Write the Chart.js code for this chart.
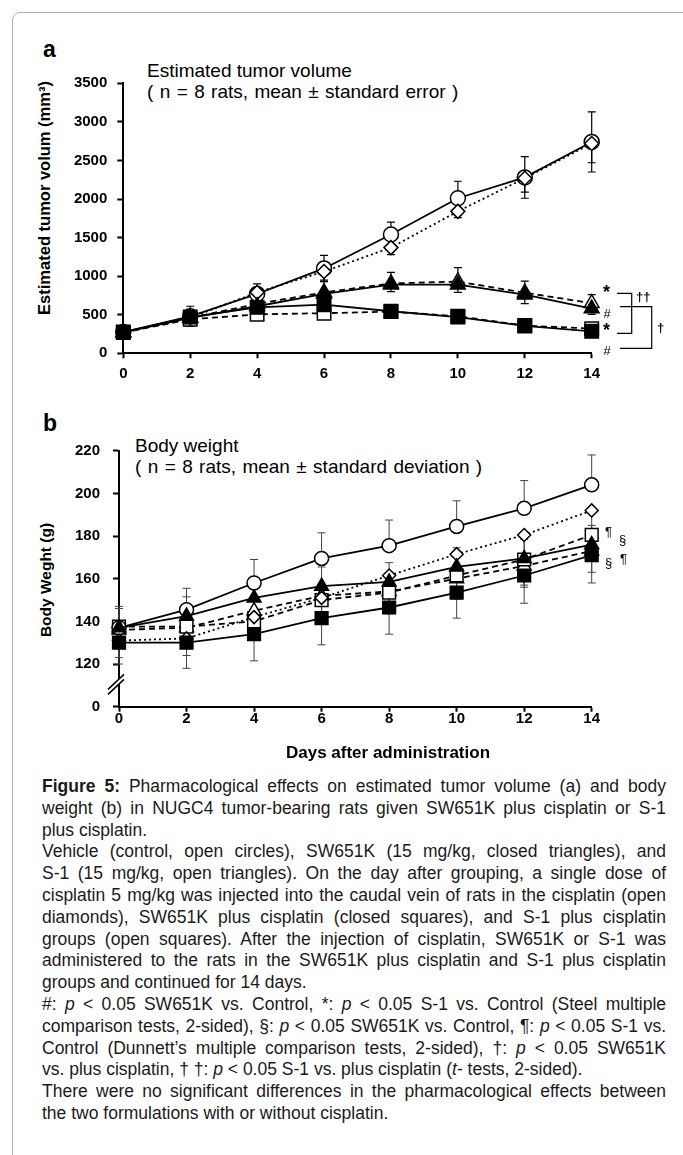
<!DOCTYPE html>
<html lang="en">
<head>
<meta charset="UTF-8">
<title>Figure 5 - tumor volume and body weight</title>
<script src="https://cdn.jsdelivr.net/npm/chart.js"></script>
<style>
  html, body { margin: 0; padding: 0; background: #fff; }
  body { width: 683px; height: 1155px; position: relative; overflow: hidden;
         font-family: 'Liberation Sans', Arial, sans-serif; color: #000; }
  .frame { position: absolute; left: 12px; top: 12px; width: 720px; height: 1180px;
           border: 1px solid #b4b4b4; border-top-left-radius: 8px; }
  canvas { position: absolute; left: 0; }
  .t { position: absolute; white-space: nowrap; }
  .panel { font-weight: bold; font-size: 23px; line-height: 23px; }
  .head { font-size: 19px; line-height: 21.3px; }
  .head .l2 { word-spacing: 1.1px; }
  .ytitle { font-weight: bold; transform: translate(-50%, -50%) rotate(-90deg); }
  .caption { position: absolute; left: 42px; top: 776px; width: 624px;
             font-size: 17.5px; line-height: 21.8px; color: #1a1a1a; }
  .caption div { white-space: nowrap; }
  .caption span { display: inline-block; }
</style>
</head>
<body>
<div class="frame"></div>

<div class="t panel" style="left:43px; top:38px;">a</div>
<div class="t head" style="left:147px; top:59.5px;">Estimated tumor volume<br><span class="l2">( n = 8 rats, mean ± standard error )</span></div>
<div class="t ytitle" style="left:44px; top:198px; font-size:16.5px;">Estimated tumor volum (mm³)</div>
<canvas id="tumorChart" width="683" height="400" style="top:0;"></canvas>

<div class="t panel" style="left:43px; top:412px;">b</div>
<div class="t head" style="left:135px; top:434.5px;">Body weight<br><span class="l2">( n = 8 rats, mean ± standard deviation )</span></div>
<div class="t ytitle" style="left:46px; top:580px; font-size:15.5px;">Body Weght (g)</div>
<canvas id="weightChart" width="683" height="360" style="top:400px;"></canvas>

<div class="t" style="left:388px; top:753px; transform:translate(-50%,-50%); font-weight:bold; font-size:17px;">Days after administration</div>

<div class="caption">
  <div class="j"><span><b>Figure 5:</b> Pharmacological effects on estimated tumor volume (a) and body</span></div>
  <div class="j"><span>weight (b) in NUGC4 tumor-bearing rats given SW651K plus cisplatin or S-1</span></div>
  <div><span>plus cisplatin.</span></div>
  <div class="j"><span>Vehicle (control, open circles), SW651K (15 mg/kg, closed triangles), and</span></div>
  <div class="j"><span>S-1 (15 mg/kg, open triangles). On the day after grouping, a single dose of</span></div>
  <div class="j"><span>cisplatin 5 mg/kg was injected into the caudal vein of rats in the cisplatin (open</span></div>
  <div class="j"><span>diamonds), SW651K plus cisplatin (closed squares), and S-1 plus cisplatin</span></div>
  <div class="j"><span>groups (open squares). After the injection of cisplatin, SW651K or S-1 was</span></div>
  <div class="j"><span>administered to the rats in the SW651K plus cisplatin and S-1 plus cisplatin</span></div>
  <div><span>groups and continued for 14 days.</span></div>
  <div class="j"><span>#: <i>p</i> &lt; 0.05 SW651K vs. Control, *: <i>p</i> &lt; 0.05 S-1 vs. Control (Steel multiple</span></div>
  <div class="j"><span>comparison tests, 2-sided), §: <i>p</i> &lt; 0.05 SW651K vs. Control, ¶: <i>p</i> &lt; 0.05 S-1 vs.</span></div>
  <div class="j"><span>Control (Dunnett’s multiple comparison tests, 2-sided), †: <i>p</i> &lt; 0.05 SW651K</span></div>
  <div><span>vs. plus cisplatin, † †: <i>p</i> &lt; 0.05 S-1 vs. plus cisplatin (<i>t</i>- tests, 2-sided).</span></div>
  <div class="j"><span>There were no significant differences in the pharmacological effects between</span></div>
  <div><span>the two formulations with or without cisplatin.</span></div>
</div>

<script>
// days after administration
const days = [0, 2, 4, 6, 8, 10, 12, 14];

// (a) estimated tumor volume, mm3 (mean, SE)
const tvControl = [275, 480, 770, 1100, 1540, 2010, 2280, 2740];
const tvCis     = [270, 460, 790, 1060, 1370, 1840, 2270, 2720];
const tvSW      = [270, 460, 610, 770, 890, 890, 760, 580];
const tvS1      = [270, 460, 640, 790, 905, 930, 785, 650];
const tvSWCis   = [275, 470, 595, 630, 545, 470, 355, 285];
const tvS1Cis   = [270, 440, 505, 520, 540, 480, 360, 320];

const seControl = [25, 130, 130, 170, 160, 220, 270, 390];
const seCis     = [20, 60, 90, 110, 90, 80, 180, 250];
const seSW      = [15, 40, 60, 100, 90, 100, 115, 75];
const seS1      = [15, 60, 80, 145, 145, 180, 150, 110];
const seSWCis   = [15, 40, 50, 60, 40, 40, 30, 30];
const seS1Cis   = [15, 40, 60, 70, 40, 40, 30, 30];

// (b) body weight, g (mean, SD)
const bwControl = [137, 145.5, 158, 169.5, 175.5, 184.5, 193, 204];
const bwCis     = [131, 132, 142, 151, 161.5, 171.5, 180.5, 192];
const bwSW      = [137, 142.5, 151, 156.5, 158.5, 165.5, 169.5, 176];
const bwS1      = [136, 137, 145, 152, 154, 160, 166, 173];
const bwSWCis   = [130, 130, 134, 141.5, 146.5, 153.5, 161.5, 171];
const bwS1Cis   = [137.5, 137.5, 140, 150, 153.5, 161.5, 169, 180.5];

const sdControl = [10, 10, 11, 12, 12, 12, 13, 14];
const sdCis     = [8, 8, 9, 9, 9, 9, 10, 10];
const sdSW      = [9, 9, 9, 9, 9, 9, 9, 9];
const sdS1      = [8, 8, 8, 9, 9, 9, 10, 10];
const sdSWCis   = [10, 12, 12.5, 12.5, 12.5, 12, 13, 13];
const sdS1Cis   = [8, 8, 9, 10, 10, 11, 12, 12];

// axis ticks
const tvTicks = { min: 0, max: 3500, step: 500 };
const bwTicks = { min: 100, max: 220, step: 20, zeroLabel: 100 };
const dayTicks = { min: 0, max: 14, step: 2 };

const FONT = "'Liberation Sans', Arial, sans-serif";
Chart.defaults.font.family = FONT;
Chart.defaults.color = '#000';

function series(label, vals, err, errDir, st) {
  return {
    label,
    data: days.map((d, i) => ({ x: d, y: vals[i] })),
    err, errDir,
    borderColor: '#000',
    borderWidth: 1.8,
    borderDash: st.dash || [],
    pointStyle: st.shape,
    pointRadius: st.r,
    pointBackgroundColor: st.fill,
    pointBorderColor: '#000',
    pointBorderWidth: 1.5,
    tension: 0,
    fill: false,
    clip: false
  };
}

function errorBarsPlugin(color, width) {
  return {
    id: 'errorBars',
    beforeDatasetsDraw(chart) {
      const { ctx } = chart;
      const ys = chart.scales.y;
      chart.data.datasets.forEach((ds, i) => {
        if (!ds.err) return;
        const meta = chart.getDatasetMeta(i);
        ctx.save();
        ctx.strokeStyle = color;
        ctx.lineWidth = width;
        ctx.beginPath();
        meta.data.forEach((pt, j) => {
          const v = ds.data[j].y, e = ds.err[j];
          const ends = [];
          if (ds.errDir !== 'down') ends.push(ys.getPixelForValue(v + e));
          if (ds.errDir !== 'up') ends.push(ys.getPixelForValue(v - e));
          ends.forEach(ye => {
            ctx.moveTo(pt.x, pt.y); ctx.lineTo(pt.x, ye);
            ctx.moveTo(pt.x - 4, ye); ctx.lineTo(pt.x + 4, ye);
          });
        });
        ctx.stroke();
        ctx.restore();
      });
    }
  };
}

// significance marks, placed relative to the right/bottom corner of the plot area
function marksPlugin(texts, paths) {
  return {
    id: 'marks',
    afterDraw(chart) {
      const { ctx, chartArea: a } = chart;
      ctx.save();
      ctx.strokeStyle = '#000';
      ctx.fillStyle = '#000';
      ctx.lineWidth = 1.2;
      paths.forEach(p => {
        ctx.beginPath();
        p.forEach(([dx, dy], k) => {
          if (k) ctx.lineTo(a.right + dx, a.bottom + dy);
          else ctx.moveTo(a.right + dx, a.bottom + dy);
        });
        ctx.stroke();
      });
      ctx.textAlign = 'center';
      ctx.textBaseline = 'alphabetic';
      texts.forEach(t => {
        ctx.font = t.font;
        ctx.fillText(t.s, a.right + t.dx, a.bottom + t.dy);
      });
      ctx.restore();
    }
  };
}

// "//" break on the body weight axis
function axisBreakPlugin(at) {
  return {
    id: 'axisBreak',
    afterDraw(chart) {
      const { ctx } = chart;
      const ys = chart.scales.y;
      const x = ys.right, y = ys.getPixelForValue(at);
      ctx.save();
      ctx.fillStyle = '#fff';
      ctx.beginPath();
      ctx.moveTo(x - 10, y + 3); ctx.lineTo(x + 4, y - 10);
      ctx.lineTo(x + 4, y - 5); ctx.lineTo(x - 10, y + 8);
      ctx.closePath();
      ctx.fill();
      ctx.strokeStyle = '#000';
      ctx.lineWidth = 1.5;
      ctx.beginPath();
      ctx.moveTo(x - 11, y + 4); ctx.lineTo(x + 5, y - 11);
      ctx.moveTo(x - 11, y + 9); ctx.lineTo(x + 5, y - 6);
      ctx.stroke();
      ctx.restore();
    }
  };
}

function axisCommon(tk, fontLH, tickLen, pad) {
  return {
    type: 'linear',
    min: tk.min,
    max: tk.max,
    ticks: {
      stepSize: tk.step,
      padding: pad,
      color: '#000',
      font: { family: FONT, size: 15, weight: 'bold', lineHeight: fontLH },
      callback: v => (tk.zeroLabel !== undefined && v === tk.zeroLabel) ? '0' : v
    },
    grid: { display: true, drawOnChartArea: false, drawTicks: true,
            tickLength: tickLen, tickColor: '#000', tickWidth: 2 },
    border: { display: true, color: '#000', width: 2 }
  };
}

function makeChart(id, datasets, yTk, box, extraPlugins, errColor, errWidth, xPad, xLH) {
  const xAxis = axisCommon(dayTicks, xLH, 5, xPad);
  xAxis.afterFit = s => { s.height = box.xh; };
  const yAxis = axisCommon(yTk, 1.2, 6, box.ypad);
  yAxis.afterFit = s => { s.width = box.yw; };
  return new Chart(document.getElementById(id), {
    type: 'line',
    data: { datasets },
    options: {
      responsive: false,
      animation: false,
      devicePixelRatio: 1,
      layout: { padding: { left: 0, top: box.top, right: box.right, bottom: 0 } },
      scales: { x: xAxis, y: yAxis },
      plugins: { legend: { display: false }, tooltip: { enabled: false } }
    },
    plugins: [errorBarsPlugin(errColor, errWidth)].concat(extraPlugins)
  });
}

// panel a
const aStyle = {
  circle: { shape: 'circle', r: 7.5, fill: '#fff' },
  diamond: { shape: 'rectRot', r: 7, fill: '#fff', dash: [2, 3] },
  triF: { shape: 'triangle', r: 8.5, fill: '#000' },
  triO: { shape: 'triangle', r: 8.5, fill: '#fff', dash: [6, 4] },
  sqF: { shape: 'rect', r: 9.5, fill: '#000' },
  sqO: { shape: 'rect', r: 9.5, fill: '#fff', dash: [6, 4] }
};

makeChart('tumorChart', [
  series('SW651K plus cisplatin', tvSWCis, seSWCis, 'down', aStyle.sqF),
  series('SW651K', tvSW, seSW, 'down', aStyle.triF),
  series('Cisplatin', tvCis, seCis, 'down', aStyle.diamond),
  series('Control', tvControl, seControl, 'both', aStyle.circle),
  series('S-1 plus cisplatin', tvS1Cis, seS1Cis, 'down', aStyle.sqO),
  series('S-1', tvS1, seS1, 'up', aStyle.triO)
], tvTicks, { top: 83.3, right: 91.3, yw: 123.3, xh: 46.7, ypad: 10 }, [
  marksPlugin([
    { s: '*', dx: 14.8, dy: -55.3, font: 'bold 18px ' + FONT },
    { s: '#', dx: 15.3, dy: -35.7, font: '13px ' + FONT },
    { s: '*', dx: 14.8, dy: -17.3, font: 'bold 18px ' + FONT },
    { s: '#', dx: 15.3, dy: 1.3, font: '13px ' + FONT },
    { s: '††', dx: 51.5, dy: -52.6, font: 'bold 13px ' + FONT },
    { s: '†', dx: 69, dy: -21.6, font: 'bold 13px ' + FONT }
  ], [
    [[25.3, -60], [40, -60], [40, -20], [25.3, -20]],
    [[28.3, -46.6], [60, -46.6], [60, -5], [28.3, -5]]
  ])
], '#000', 1.2, 6.7, 1.2);

// panel b
const bStyle = {
  circle: { shape: 'circle', r: 7, fill: '#fff' },
  diamond: { shape: 'rectRot', r: 6.5, fill: '#fff', dash: [2, 3] },
  triF: { shape: 'triangle', r: 8, fill: '#000' },
  triO: { shape: 'triangle', r: 8, fill: '#fff', dash: [6, 4] },
  sqF: { shape: 'rect', r: 9, fill: '#000' },
  sqO: { shape: 'rect', r: 9, fill: '#fff', dash: [6, 4] }
};

makeChart('weightChart', [
  series('SW651K plus cisplatin', bwSWCis, sdSWCis, 'down', bStyle.sqF),
  series('SW651K', bwSW, sdSW, 'up', bStyle.triF),
  series('Cisplatin', bwCis, sdCis, 'down', bStyle.diamond),
  series('Control', bwControl, sdControl, 'up', bStyle.circle),
  series('S-1 plus cisplatin', bwS1Cis, sdS1Cis, 'down', bStyle.sqO),
  series('S-1', bwS1, sdS1, 'down', bStyle.triO)
], bwTicks, { top: 50.7, right: 91.3, yw: 119, xh: 53.3, ypad: 13 }, [
  marksPlugin([
    { s: '¶', dx: 16.8, dy: -170.4, font: '13px ' + FONT },
    { s: '§', dx: 30.8, dy: -162.4, font: '13px ' + FONT },
    { s: '§', dx: 16.8, dy: -139.4, font: '13px ' + FONT },
    { s: '¶', dx: 31.8, dy: -143.4, font: '13px ' + FONT }
  ], []),
  axisBreakPlugin(110)
], '#444', 1, 0, 1.0);

// justify caption lines to the column width
document.querySelectorAll('.caption .j span').forEach(sp => {
  const target = 624;
  const w = sp.getBoundingClientRect().width;
  const text = sp.textContent;
  const spaces = (text.match(/ /g) || []).length;
  const diff = target - w;
  if (diff >= 0) {
    sp.style.wordSpacing = (diff / spaces) + 'px';
  } else {
    sp.style.letterSpacing = (diff / (text.length - 1)) + 'px';
  }
});
</script>
</body>
</html>
